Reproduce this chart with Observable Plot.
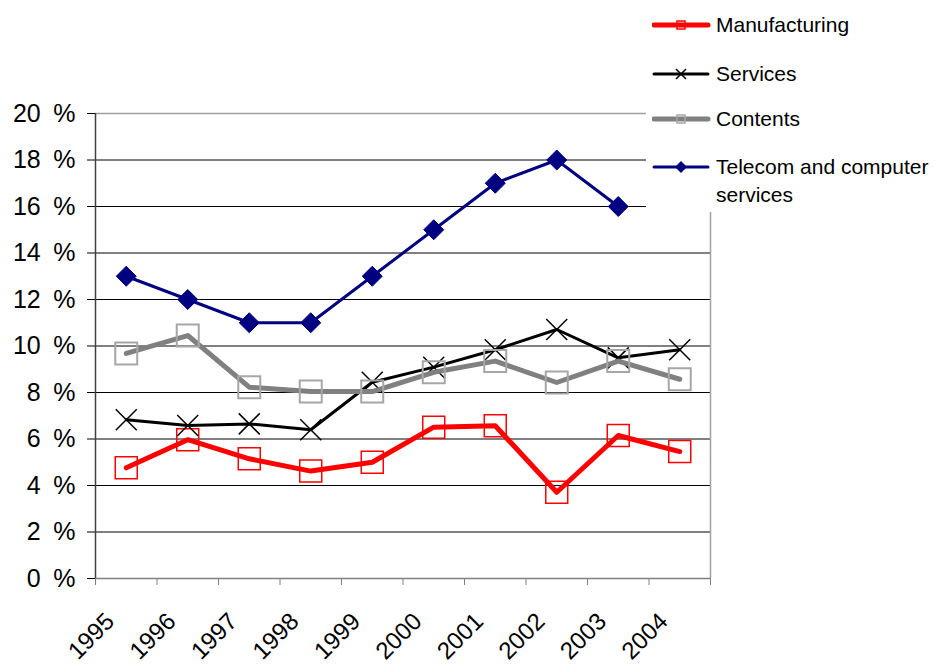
<!DOCTYPE html>
<html><head><meta charset="utf-8">
<script src="https://cdn.jsdelivr.net/npm/d3@7"></script>
<script src="https://cdn.jsdelivr.net/npm/@observablehq/plot@0.6"></script>
<style>
body{margin:0;background:#fff;font-family:"Liberation Sans",Arial,sans-serif;}
#wrap{position:relative;width:934px;height:666px;overflow:hidden;}
#legend{position:absolute;left:646px;top:0;width:288px;height:212px;background:#fff;}
.item{position:absolute;left:6px;display:flex;align-items:flex-start;font-size:21px;line-height:28px;color:#000;}
.item svg{flex:none;margin-right:4px;}
</style></head><body><div id="wrap"><div id="chart"></div><div id="legend"></div></div>
<script>
const years = [1995, 1996, 1997, 1998, 1999, 2000, 2001, 2002, 2003, 2004];
const manufacturing = [4.76, 5.97, 5.15, 4.62, 5.0, 6.51, 6.57, 3.71, 6.15, 5.46];
const services = [6.83, 6.58, 6.65, 6.40, 8.44, 9.09, 9.84, 10.71, 9.49, 9.84];
const contents = [9.68, 10.45, 8.23, 8.04, 8.04, 8.87, 9.35, 8.43, 9.35, 8.57];
const telecom = [13, 12, 11, 11, 13, 15, 17, 18, 16, null];
const seriesNames = ["Manufacturing", "Services", "Contents", "Telecom and computer services"];
const yTicks = [0, 2, 4, 6, 8, 10, 12, 14, 16, 18, 20];

const styles = [
  {values: manufacturing, color: "#ff0000", width: 5, symbol: "square", r: 12.4, mstroke: "#ff0000", fill: "none", mw: 1.5},
  {values: services, color: "#000000", width: 3, symbol: "times", r: 9.6, mstroke: "#000000", fill: "none", mw: 1.5},
  {values: contents, color: "#808080", width: 5, symbol: "square", r: 12.4, mstroke: "#a6a6a6", fill: "none", mw: 2},
  {values: telecom, color: "#000080", width: 3, symbol: "diamond2", r: 9, mstroke: "#000080", fill: "#000080", mw: 1}
];

const series = styles.map((s, i) => ({
  ...s,
  name: seriesNames[i],
  data: years.map((y, j) => ({year: y, v: s.values[j]})).filter(d => d.v != null)
}));

const bandEdges = years.map(y => y - 0.5).concat([years[years.length - 1] + 0.5]);

const marks = [
  Plot.ruleY(yTicks.filter(t => t > 0 && t < 20), {stroke: "#000", strokeWidth: 1}),
  Plot.ruleY([20], {stroke: "#a0a0a0", strokeWidth: 1.5}),
  Plot.ruleX([bandEdges[bandEdges.length - 1]], {stroke: "#a0a0a0", strokeWidth: 1.5}),
  Plot.axisX({ticks: bandEdges, tickSize: 7, tickFormat: () => "", stroke: "#808080", label: null}),
  Plot.axisX({ticks: years, tickSize: 0, tickRotate: -45, tickFormat: d => String(d), fontSize: 24, tickPadding: 39, dx: -16, label: null}),
  Plot.axisY({ticks: yTicks, tickSize: 8, tickPadding: 12, tickFormat: d => d + "\u2002%", fontSize: 25, label: null}),
  Plot.ruleY([0], {stroke: "#808080", strokeWidth: 1.5}),
  Plot.ruleX([bandEdges[0]], {stroke: "#404040", strokeWidth: 1.5})
];
for (const s of series) {
  marks.push(Plot.line(s.data, {x: "year", y: "v", stroke: s.color, strokeWidth: s.width, strokeLinejoin: "round", strokeLinecap: "round"}));
  marks.push(Plot.dot(s.data, {x: "year", y: "v", symbol: s.symbol, r: s.r, stroke: s.mstroke, fill: s.fill, strokeWidth: s.mw}));
}

const chart = Plot.plot({
  width: 934,
  height: 666,
  marginLeft: 95,
  marginRight: 224,
  marginTop: 113,
  marginBottom: 88,
  style: {fontFamily: "'Liberation Sans', Arial, sans-serif", color: "#000", background: "#fff", overflow: "visible"},
  x: {type: "linear", domain: [bandEdges[0], bandEdges[bandEdges.length - 1]], label: null},
  y: {domain: [0, 20], label: null},
  marks
});
document.getElementById("chart").appendChild(chart);

// legend
const legend = document.getElementById("legend");
const tops = [11, 60, 105, 153];
series.forEach((s, i) => {
  const div = document.createElement("div");
  div.className = "item";
  div.style.top = tops[i] + "px";
  let marker = "";
  if (s.symbol === "square") marker = `<rect x="25" y="10" width="8" height="8" fill="none" stroke="${s.mstroke}" stroke-width="1.5"/>`;
  else if (s.symbol === "times") marker = `<path d="M24,9L34,19M34,9L24,19" stroke="${s.mstroke}" stroke-width="1.5"/>`;
  else marker = `<path d="M29,8L35,14L29,20L23,14Z" fill="${s.fill}"/>`;
  div.innerHTML = `<svg width="60" height="28"><line x1="2" y1="14" x2="56" y2="14" stroke="${s.color}" stroke-width="${s.width}" stroke-linecap="round"/>${marker}</svg><span style="width:220px">${s.name}</span>`;
  legend.appendChild(div);
});
</script></body></html>
